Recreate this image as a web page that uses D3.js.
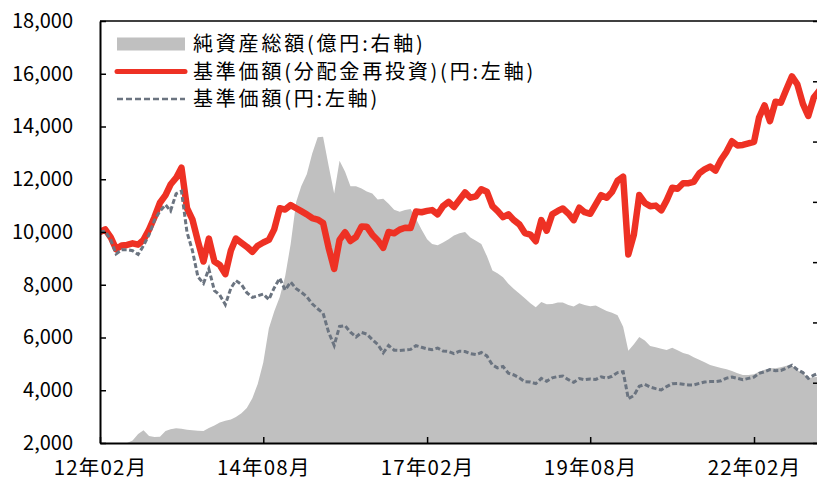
<!DOCTYPE html>
<html><head><meta charset="utf-8">
<script src="https://cdn.jsdelivr.net/npm/d3@7"></script>
<style>
html,body{margin:0;padding:0;background:#fff;overflow:hidden}
svg{display:block}
text{font-family:"Noto Sans CJK JP","Noto Sans",sans-serif;fill:#000}
</style></head><body>
<svg id="c" width="817" height="483"></svg>
<script>
// ---- data ----
const dates = [
"2012-02-01","2012-03-01","2012-04-01","2012-05-01","2012-06-01","2012-07-01","2012-08-01","2012-09-01","2012-10-01","2012-11-01","2012-12-01",
"2013-01-01","2013-02-01","2013-03-01","2013-04-01","2013-05-01","2013-06-01","2013-07-01","2013-08-01","2013-09-01","2013-10-01","2013-11-01","2013-12-01",
"2014-01-01","2014-02-01","2014-03-01","2014-04-01","2014-05-01","2014-06-01","2014-07-01","2014-08-01","2014-09-01","2014-10-01","2014-11-01","2014-12-01",
"2015-01-01","2015-02-01","2015-03-01","2015-04-01","2015-05-01","2015-06-01","2015-07-01","2015-08-01","2015-09-01","2015-10-01","2015-11-01","2015-12-01",
"2016-01-01","2016-02-01","2016-03-01","2016-04-01","2016-05-01","2016-06-01","2016-07-01","2016-08-01","2016-09-01","2016-10-01","2016-11-01","2016-12-01",
"2017-01-01","2017-02-01","2017-03-01","2017-04-01","2017-05-01","2017-06-01","2017-07-01","2017-08-01","2017-09-01","2017-10-01","2017-11-01","2017-12-01",
"2018-01-01","2018-02-01","2018-03-01","2018-04-01","2018-05-01","2018-06-01","2018-07-01","2018-08-01","2018-09-01","2018-10-01","2018-11-01","2018-12-01",
"2019-01-01","2019-02-01","2019-03-01","2019-04-01","2019-05-01","2019-06-01","2019-07-01","2019-08-01","2019-09-01","2019-10-01","2019-11-01","2019-12-01",
"2020-01-01","2020-02-01","2020-03-01","2020-04-01","2020-05-01","2020-06-01","2020-07-01","2020-08-01","2020-09-01","2020-10-01","2020-11-01","2020-12-01",
"2021-01-01","2021-02-01","2021-03-01","2021-04-01","2021-05-01","2021-06-01","2021-07-01","2021-08-01","2021-09-01","2021-10-01","2021-11-01","2021-12-01",
"2022-01-01","2022-02-01","2022-03-01","2022-04-01","2022-05-01","2022-06-01","2022-07-01","2022-08-01","2022-09-01","2022-10-01","2022-11-01","2022-12-01",
"2023-01-01","2023-01-30"
];
// 純資産総額 (億円, right axis)
const netAssets = [
0,0,0,0,0,0,20,75,105,58,
50,52,100,115,122,118,110,106,102,100,
125,145,170,185,195,215,246,290,372,490,
668,950,1090,1210,1380,1650,2000,2130,2230,2400,
2535,2540,2300,2070,2340,2250,2130,2130,2110,2085,
2070,2020,2025,1985,1935,1918,1932,1940,1860,1770,
1690,1650,1640,1662,1690,1720,1740,1750,1705,1678,
1650,1550,1430,1408,1375,1320,1278,1240,1200,1160,
1125,1170,1150,1152,1165,1165,1144,1133,1160,1145,
1135,1140,1118,1095,1080,1060,965,765,820,880,
850,805,795,782,771,790,770,746,733,712,
690,670,647,635,622,612,598,578,565,564,
570,590,607,619,619,628,640,640,603,580,
540,545,550
];
// 基準価額(分配金再投資) (円, left axis)
const navReinvested = [
10000,10100,9800,9350,9490,9510,9570,9520,9700,10090,
10560,11110,11400,11800,12050,12440,10900,10480,9650,8880,
9750,8880,8750,8400,9300,9750,9590,9440,9250,9480,
9600,9700,10100,10900,10850,11020,10900,10790,10670,10530,
10470,10340,9400,8600,9700,9990,9660,9810,10210,10200,
9900,9690,9400,10000,9950,10090,10160,10150,10780,10750,
10800,10830,10670,10980,11140,10950,11220,11500,11300,11350,
11620,11530,10980,10800,10560,10670,10450,10290,9960,9900,
9650,10450,10050,10670,10800,10890,10700,10450,10920,10750,
10690,11050,11400,11300,11520,11950,12100,9150,9900,11400,
11100,10980,11000,10820,11200,11680,11640,11850,11850,11900,
12220,12370,12480,12330,12740,13050,13440,13280,13300,13360,
13420,14340,14800,14200,14940,14900,15410,15900,15600,14860,
14400,15100,15350
];
// 基準価額 (円, left axis)
const nav = [
10000,10030,9700,9170,9330,9330,9290,9150,9480,9900,
10440,10790,11030,10800,11450,11550,9990,9300,8300,8050,
8600,7780,7610,7250,7870,8160,8010,7700,7520,7580,
7650,7440,7880,8250,7800,8100,7850,7720,7550,7280,
7090,6920,6200,5700,6420,6450,6200,6020,6190,6130,
5920,5740,5420,5700,5520,5510,5530,5550,5690,5630,
5570,5540,5600,5490,5470,5390,5480,5470,5390,5350,
5430,5300,4960,4850,4900,4650,4580,4470,4320,4310,
4250,4450,4340,4470,4520,4540,4400,4300,4440,4400,
4430,4410,4510,4460,4530,4670,4700,3680,3800,4150,
4220,4120,4060,4010,4140,4250,4260,4230,4200,4200,
4260,4310,4330,4330,4360,4460,4500,4450,4400,4450,
4500,4640,4700,4780,4740,4750,4840,4950,4780,4670,
4450,4570,4650
];
const xTickDates = ["2012-02-01","2014-08-01","2017-02-01","2019-08-01","2022-02-01"];
const leftTicks = [2000,4000,6000,8000,10000,12000,14000,16000,18000];
const rightTicks = [0,500,1000,1500,2000,2500,3000,3500];
const domainStart = "2012-02-01", domainEnd = "2023-01-30";
const legendLabels = ["純資産総額(億円:右軸)","基準価額(分配金再投資)(円:左軸)","基準価額(円:左軸)"];

// ---- drawing ----
const parse = d3.timeParse("%Y-%m-%d");
const D = dates.map(parse);
const L = 100, R = 819, T = 21, B = 443;
const x = d3.scaleTime().domain([parse(domainStart), parse(domainEnd)]).range([L, R]);
const yL = d3.scaleLinear().domain([2000, 18000]).range([B, T]);
const yR = d3.scaleLinear().domain([0, 3500]).range([B, T]);

const svg = d3.select("#c");
svg.append("defs").append("clipPath").attr("id","clip")
  .append("rect").attr("x",L).attr("y",T).attr("width",R-L).attr("height",B-T);
const g = svg.append("g").attr("clip-path","url(#clip)");

const COL_AREA = "#c0c0c0", COL_RED = "#ee3124", COL_GREY = "#6b7480";

g.append("path").datum(netAssets)
  .attr("fill", COL_AREA)
  .attr("d", d3.area().x((d,i)=>x(D[i])).y0(yR(0)).y1(d=>yR(d)));

g.append("path").datum(navReinvested)
  .attr("fill","none").attr("stroke",COL_RED).attr("stroke-width",6.5)
  .attr("stroke-linejoin","round").attr("stroke-linecap","round")
  .attr("d", d3.line().x((d,i)=>x(D[i])).y(d=>yL(d)));

g.append("path").datum(nav)
  .attr("fill","none").attr("stroke",COL_GREY).attr("stroke-width",3)
  .attr("stroke-dasharray","5,2.5")
  .attr("d", d3.line().x((d,i)=>x(D[i])).y(d=>yL(d)));

// top border
svg.append("line").attr("x1",L).attr("x2",R).attr("y1",T).attr("y2",T)
  .attr("stroke","#000").attr("stroke-width",1.5);

// left axis
const ax = svg.append("g").attr("transform",`translate(${L},0)`)
  .call(d3.axisLeft(yL).tickValues(leftTicks).tickSize(-6).tickSizeOuter(0)
        .tickPadding(27).tickFormat(d3.format(",")));
// right axis (labels fall outside the frame)
const ar = svg.append("g").attr("transform",`translate(${R},0)`)
  .call(d3.axisRight(yR).tickValues(rightTicks).tickSize(-6).tickSizeOuter(0).tickFormat(""));
// bottom axis
const ab = svg.append("g").attr("transform",`translate(0,${B})`)
  .call(d3.axisBottom(x).tickValues(xTickDates.map(parse)).tickSize(-6).tickSizeOuter(0)
        .tickPadding(22).tickFormat(d3.timeFormat("%y年%m月")));

[ax, ar, ab].forEach(a => {
  a.select(".domain").attr("stroke","#000").attr("stroke-width",2);
  a.selectAll(".tick line").attr("stroke","#000").attr("stroke-width",1.5);
  a.selectAll("text").attr("font-size",20).attr("font-family",'"Noto Sans CJK JP", sans-serif').attr("fill","#000");
});
ab.selectAll("text").attr("font-size",20.5).attr("letter-spacing","1.2px").attr("dy","0.5em");

// legend
const lg = svg.append("g");
const rowY = [44, 71.5, 99];
lg.append("rect").attr("x",117).attr("y",rowY[0]-6.5).attr("width",68).attr("height",13).attr("fill",COL_AREA);
lg.append("line").attr("x1",117).attr("x2",185).attr("y1",rowY[1]).attr("y2",rowY[1])
  .attr("stroke",COL_RED).attr("stroke-width",5).attr("stroke-linecap","round");
lg.append("line").attr("x1",117).attr("x2",185).attr("y1",rowY[2]).attr("y2",rowY[2])
  .attr("stroke",COL_GREY).attr("stroke-width",2.5).attr("stroke-dasharray","6,3");
legendLabels.forEach((t,i)=>{
  lg.append("text").attr("x",193).attr("y",rowY[i]).attr("dy","0.36em")
    .attr("font-size",20).attr("letter-spacing","2.8px").text(t);
});
</script>
</body></html>
